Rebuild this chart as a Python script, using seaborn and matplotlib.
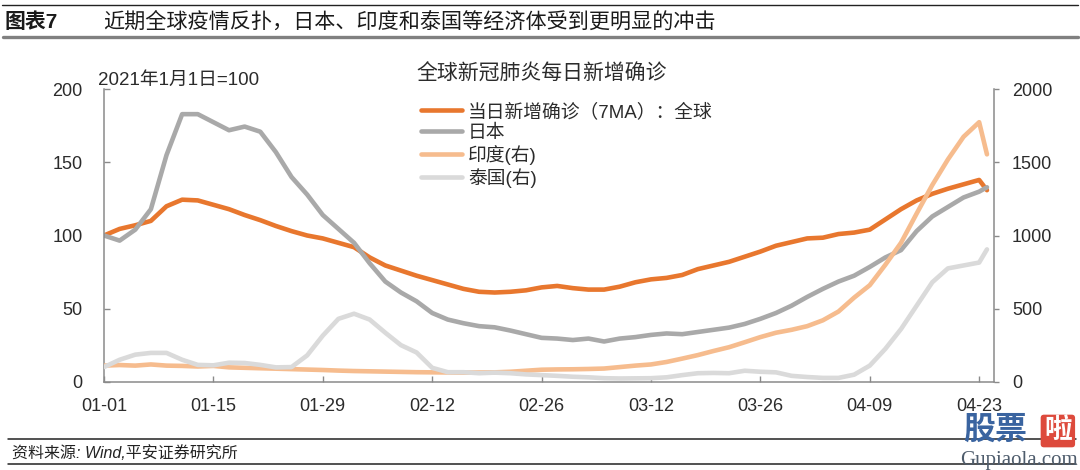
import matplotlib
matplotlib.use("Agg")
import pandas as pd
import matplotlib.pyplot as plt
import matplotlib.dates as mdates
from matplotlib.lines import Line2D
import seaborn as sns

# every second day from 01-01 to 04-23, plus the last day 04-24
dates = list(pd.date_range("2021-01-01", "2021-04-23", freq="2D")) + [pd.Timestamp("2021-04-24")]

# index, 2021-01-01 = 100 (left axis)
global_vals = [100, 104.5, 107, 110, 120, 124.5, 124, 121, 118, 114,
               110.5, 106.5, 103, 100, 98, 95, 92, 85, 79.5, 76,
               72.5, 69.5, 66.5, 63.5, 61.5, 61, 61.5, 62.5, 64.5, 65.5,
               64, 63, 63, 65, 68, 70, 71, 73, 77, 79.5,
               82, 85.5, 89, 93, 95.5, 98, 98.5, 101, 102, 104,
               111, 118, 124, 128.5, 132, 135, 138, 131]
japan_vals = [100, 96.5, 104, 118, 155, 183, 183, 177.5, 172, 174.5,
              171, 157, 140, 128, 114, 104.5, 95, 81, 68.5, 61,
              55, 47, 42.5, 40, 38, 37.2, 35, 32.5, 30, 29.5,
              28.5, 29.5, 27.5, 29.5, 30.5, 32, 33, 32.5, 34, 35.5,
              37, 39.5, 43, 47, 52, 58, 63.5, 68.5, 72.5, 78.5,
              85, 90, 103, 113, 119.5, 126, 130, 133]
# right axis
india_vals = [110, 114, 110, 118, 110, 108, 104, 108, 98, 95,
              92, 89, 86, 83, 80, 76, 73, 71, 69, 67,
              65, 64, 63, 62, 63, 64, 68, 75, 82, 84,
              85, 87, 90, 100, 110, 118, 135, 158, 182, 210,
              236, 270, 305, 335, 355, 380, 420, 480, 575, 660,
              800, 950, 1150, 1345, 1520, 1675, 1775, 1555]
thai_vals = [100, 150, 185, 197, 197, 150, 115, 112, 130, 128,
             115, 98, 100, 180, 315, 430, 465, 425, 335, 250,
             200, 95, 65, 65, 58, 62, 58, 50, 45, 40,
             34, 30, 24, 22, 23, 24, 30, 45, 58, 60,
             58, 75, 68, 64, 40, 32, 26, 26, 48, 110,
             225, 360, 520, 680, 775, 795, 815, 905]

labels = ["当日新增确诊（7MA）：全球", "日本", "印度(右)", "泰国(右)"]
colors = ["#E8772E", "#A9A9A9", "#F6BC8E", "#DADADA"]
x_ticks = pd.date_range("2021-01-01", "2021-04-23", freq="14D")

sns.set_theme(style="white")
plt.rcParams["font.family"] = ["Liberation Sans", "Noto Sans CJK SC", "DejaVu Sans"]
plt.rcParams["axes.unicode_minus"] = False

W, H = 1080, 470
fig = plt.figure(figsize=(W / 100, H / 100), dpi=100)
ax = fig.add_axes([104 / W, 1 - 381.7 / H, (994 - 104) / W, (381.7 - 89.3) / H])
ax2 = ax.twinx()

lw = 3.3
sns.lineplot(x=dates, y=global_vals, ax=ax, color=colors[0], lw=lw, label=labels[0], legend=False)
sns.lineplot(x=dates, y=japan_vals, ax=ax, color=colors[1], lw=lw, label=labels[1], legend=False)
sns.lineplot(x=dates, y=india_vals, ax=ax2, color=colors[2], lw=lw, label=labels[2], legend=False)
sns.lineplot(x=dates, y=thai_vals, ax=ax2, color=colors[3], lw=lw, label=labels[3], legend=False)

gray = "#8A8A8A"
txt = "#2b2b2b"
ax.set_xlim(pd.Timestamp("2021-01-01"), pd.Timestamp("2021-01-01") + pd.Timedelta(days=113.9))
ax.set_ylim(0, 200)
ax2.set_ylim(0, 2000)
ax.set_yticks([0, 50, 100, 150, 200])
ax2.set_yticks([0, 500, 1000, 1500, 2000])
ax.set_xticks(x_ticks)
ax.xaxis.set_major_formatter(mdates.DateFormatter("%m-%d"))
ax.set_xlabel("")
ax.set_ylabel("")
ax2.set_ylabel("")

for a in (ax, ax2):
    for s in a.spines.values():
        s.set_visible(False)
    a.grid(False)
    a.set_facecolor("none")
ax.spines["left"].set_visible(True)
ax.spines["bottom"].set_visible(True)
ax2.spines["right"].set_visible(True)
for s in (ax.spines["left"], ax.spines["bottom"], ax2.spines["right"]):
    s.set_color(gray)
    s.set_linewidth(1.1)

ax.tick_params(axis="y", direction="in", length=4, width=1, color=gray, labelcolor=txt,
               labelsize=13, pad=15.5, left=True)
ax.tick_params(axis="x", direction="in", length=4, width=1, color=gray, labelcolor=txt,
               labelsize=13, pad=12, bottom=True)
ax2.tick_params(axis="y", direction="out", length=3.5, width=1, color=gray, labelcolor=txt,
                labelsize=13, pad=9.5, right=True)

handles = ax.get_lines()[:2] + ax2.get_lines()[:2]
fig.legend(handles, labels, loc="upper left", bbox_to_anchor=(421 / W, 1 - 103 / H),
           frameon=False, fontsize=13.5, handlelength=2.2, handletextpad=0.3,
           labelspacing=0.18, borderpad=0, borderaxespad=0, labelcolor=txt)

fig.text(416 / W, 1 - 74 / H, "全球新冠肺炎每日新增确诊", fontsize=15, color=txt, va="center")
fig.text(98 / W, 1 - 80 / H, "2021年1月1日=100", fontsize=13.5, color=txt, va="center")

# header
fig.text(5 / W, 1 - 22 / H, "图表7", fontsize=15, fontweight="bold", color="#1a1a1a", va="center")
fig.text(103 / W, 1 - 22 / H, "近期全球疫情反扑，日本、印度和泰国等经济体受到更明显的冲击",
         fontsize=15.2, color="#1a1a1a", va="center")
fig.add_artist(Line2D([0.002, 0.998], [1 - 5 / H] * 2, lw=1.0, color="#222222"))
fig.add_artist(Line2D([0.003, 0.998], [1 - 37 / H] * 2, lw=2.4, color="#808080"))

# footer
fig.add_artist(Line2D([8 / W, 0.996], [1 - 439 / H] * 2, lw=1.1, color="#222222"))
fig.add_artist(Line2D([8 / W, 0.996], [1 - 464 / H] * 2, lw=1.1, color="#222222"))
fig.text(12 / W, 1 - 453 / H, "资料来源: Wind,平安证券研究所", fontsize=11.5, style="italic",
         color="#222222", va="center")

# watermark
fig.text(963 / W, 1 - 431 / H, "股票", fontsize=23, fontweight="heavy", color="#3A64A0", va="center")
fig.text(1044 / W, 1 - 431 / H, "啦", fontsize=20, fontweight="bold", color="white", va="center",
         bbox=dict(boxstyle="round,pad=0.12", facecolor="#DD4A3C", edgecolor="none"))
fig.text(1019 / W, 1 - 460 / H, "Gupiaola.com", fontsize=15, family=["Liberation Serif"],
         color="#4E5C6C", va="center", ha="center")

fig.savefig("out.png", dpi=100)
